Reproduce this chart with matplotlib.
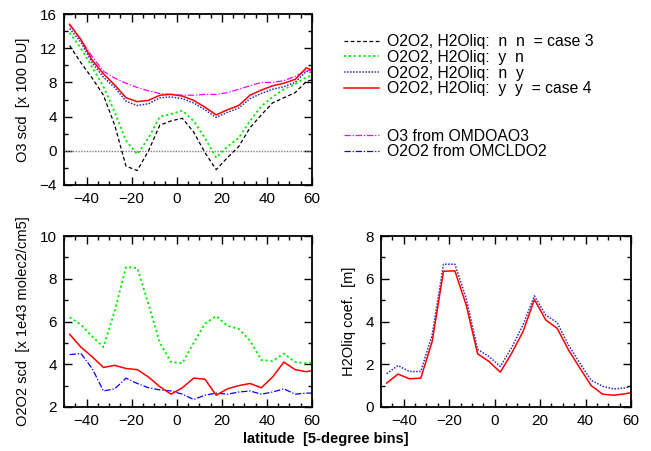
import numpy as np
import matplotlib.pyplot as plt
from matplotlib.lines import Line2D
from matplotlib.ticker import MultipleLocator

plt.rcParams['font.family'] = ['Liberation Sans', 'DejaVu Sans']

# latitude bin centres
lat = np.arange(-47.5, 65, 5.0)

# O3 slant column, x 100 DU
o3_nn = [12.3, 10.3, 8.5, 6.5, 3.0, -1.8, -2.3, 0.0, 3.0, 3.5, 3.8, 2.2,
         -0.2, -2.2, -0.8, 0.5, 2.7, 4.2, 5.6, 6.2, 6.8, 8.1, 8.5]
o3_yn = [13.8, 12.0, 9.8, 7.5, 4.5, 1.2, -0.4, 1.5, 4.0, 4.3, 4.7, 3.5,
         1.5, -0.8, 0.5, 1.5, 3.5, 5.2, 6.3, 7.2, 7.8, 8.6, 9.0]
o3_ny = [14.3, 12.7, 10.3, 8.6, 7.4, 5.8, 5.3, 5.5, 6.2, 6.3, 6.1, 5.6,
         4.8, 3.9, 4.5, 5.0, 6.1, 6.7, 7.2, 7.5, 8.0, 9.3, 9.0]
o3_yy = [14.8, 13.0, 10.6, 9.0, 7.7, 6.2, 5.75, 5.9, 6.5, 6.6, 6.4, 5.9,
         5.1, 4.2, 4.8, 5.3, 6.5, 7.1, 7.6, 7.9, 8.35, 9.7, 9.2]
o3_omdoao3 = [14.7, 13.0, 11.0, 9.3, 8.5, 7.9, 7.4, 7.0, 6.7, 6.6, 6.5, 6.5,
              6.6, 6.6, 6.8, 7.2, 7.6, 8.0, 8.0, 8.2, 8.7, 9.4, 9.5]

# O2O2 slant column, x 1e43 molec2/cm5
o2o2_yn = [6.2, 5.85, 5.3, 4.8, 6.5, 8.55, 8.5, 6.8, 5.0, 4.1, 4.05, 5.0,
           5.9, 6.25, 5.8, 5.65, 5.1, 4.2, 4.15, 4.5, 4.1, 4.05, 4.1]
o2o2_yy = [5.4, 4.8, 4.35, 3.85, 3.95, 3.8, 3.75, 3.4, 2.95, 2.6, 2.9, 3.35,
           3.3, 2.55, 2.85, 3.0, 3.1, 2.9, 3.4, 4.1, 3.75, 3.65, 3.75]
o2o2_omcldo2 = [4.45, 4.5, 3.8, 2.75, 2.85, 3.35, 3.1, 2.9, 2.8, 2.75, 2.6, 2.35,
                2.55, 2.65, 2.6, 2.7, 2.75, 2.6, 2.7, 2.85, 2.6, 2.65, 2.65]

# H2O liquid coefficient, m
h2o_ny = [1.56, 1.94, 1.66, 1.66, 3.37, 6.68, 6.68, 5.08, 2.7, 2.36, 1.9, 2.78,
          3.84, 5.2, 4.3, 3.95, 2.9, 2.05, 1.25, 0.97, 0.84, 0.89, 1.05]
h2o_yy = [1.12, 1.54, 1.32, 1.35, 3.06, 6.35, 6.37, 4.77, 2.49, 2.13, 1.63, 2.52,
          3.53, 5.03, 4.07, 3.68, 2.67, 1.82, 1.0, 0.6, 0.55, 0.62, 0.72]

s_nn = dict(color='black', ls=(0, (3, 2)), lw=0.9)
s_yn = dict(color='#00ee00', ls=(0, (1.2, 1.5)), lw=1.3)
s_ny = dict(color='#2a2ac0', ls=(0, (1, 1)), lw=1.1)
s_yy = dict(color='#ff0000', ls='-', lw=1.1)
s_o3 = dict(color='#ff00ff', ls=(0, (5, 1.5, 1, 1.5)), lw=0.9)
s_o2 = dict(color='#0000ff', ls=(0, (5, 1.5, 1, 1.5)), lw=0.9)

W, H = 651, 451
fig = plt.figure(figsize=(W / 100, H / 100), dpi=100)


def setup(ax, ylim, ymaj, ymin):
    ax.set_xlim(-50, 60)
    ax.set_ylim(*ylim)
    ax.xaxis.set_major_locator(MultipleLocator(20))
    ax.xaxis.set_minor_locator(MultipleLocator(5))
    ax.yaxis.set_major_locator(MultipleLocator(ymaj))
    ax.yaxis.set_minor_locator(MultipleLocator(ymin))
    ax.tick_params(which='both', direction='in', top=True, right=True,
                   labelsize=11, width=1.0)
    ax.tick_params(which='major', length=6, pad=5)
    ax.tick_params(which='minor', length=3)
    for sp in ax.spines.values():
        sp.set_linewidth(1.3)


ax1 = fig.add_axes([64 / W, (H - 185) / H, 248 / W, 171 / H])
setup(ax1, (-4, 16), 4, 2)
ax1.axhline(0, color='gray', ls=(0, (1, 1)), lw=1)
ax1.plot(lat, o3_omdoao3, **s_o3)
ax1.plot(lat, o3_nn, **s_nn)
ax1.plot(lat, o3_yn, **s_yn)
ax1.plot(lat, o3_ny, **s_ny)
ax1.plot(lat, o3_yy, **s_yy)
ax1.set_ylabel('O3 scd  [x 100 DU]', fontsize=10.5, labelpad=7)

ax2 = fig.add_axes([64 / W, 44 / H, 248 / W, 171 / H])
setup(ax2, (2, 10), 2, 1)
ax2.plot(lat, o2o2_omcldo2, **s_o2)
ax2.plot(lat, o2o2_yn, **s_yn)
ax2.plot(lat, o2o2_yy, **s_yy)
ax2.set_ylabel('O2O2 scd  [x 1e43 molec2/cm5]', fontsize=10.5, labelpad=7)

ax3 = fig.add_axes([381 / W, 44 / H, 250 / W, 171 / H])
setup(ax3, (0, 8), 2, 1)
ax3.plot(lat, h2o_ny, **s_ny)
ax3.plot(lat, h2o_yy, **s_yy)
ax3.set_ylabel('H2Oliq coef.  [m]', fontsize=10.5, labelpad=7)

fig.text(326 / W, 1 - 439 / H, 'latitude  [5-degree bins]', fontsize=10.5,
         fontweight='bold', ha='center', va='center')

blank = Line2D([], [], color='none')
handles = [Line2D([], [], **s_nn), Line2D([], [], **s_yn),
           Line2D([], [], **s_ny), Line2D([], [], **s_yy),
           blank, blank,
           Line2D([], [], **s_o3), Line2D([], [], **s_o2)]
labels = ['O2O2, H2Oliq:  n  n  = case 3',
          'O2O2, H2Oliq:  y  n',
          'O2O2, H2Oliq:  n  y',
          'O2O2, H2Oliq:  y  y  = case 4',
          ' ', ' ',
          'O3 from OMDOAO3',
          'O2O2 from OMCLDO2']
fig.legend(handles, labels, loc='upper left',
           bbox_to_anchor=(344 / W, 1 - 34 / H), frameon=False,
           fontsize=11.3, handlelength=2.2, handletextpad=0.55,
           labelspacing=0.05, borderaxespad=0, borderpad=0)

fig.savefig('out.png', dpi=100)
